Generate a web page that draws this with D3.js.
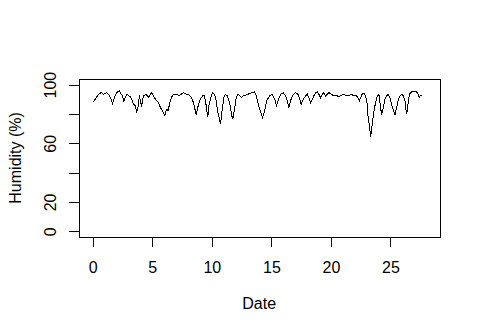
<!DOCTYPE html>
<meta charset="utf-8">
<style>
  body { margin: 0; background: #fff; }
  svg { display: block; }
  text { font-family: "Liberation Sans", Arial, sans-serif; }
</style>
<body>
<script src="https://d3js.org/d3.v7.min.js"></script>
<script>

// day of reading (days from start)
var days = [0.06, 0.20, 0.48, 0.71, 0.90, 1.15, 1.38, 1.53, 1.66, 1.82,
  2.02, 2.22, 2.39, 2.50, 2.61, 2.72, 2.86, 3.00, 3.14, 3.28,
  3.42, 3.56, 3.70, 3.80, 3.92, 4.09, 4.26, 4.51, 4.66, 4.93,
  5.18, 5.50, 5.69, 5.92, 6.05, 6.19, 6.34, 6.47, 6.61, 6.76,
  7.03, 7.29, 7.60, 7.87, 8.13, 8.27, 8.40, 8.55, 8.69, 8.82,
  8.97, 9.11, 9.24, 9.39, 9.53, 9.66, 9.75, 9.95, 10.08, 10.23,
  10.37, 10.50, 10.65, 10.73, 10.84, 11.01, 11.13, 11.29, 11.40, 11.55,
  11.68, 11.76, 11.91, 12.02, 12.16, 12.33, 12.52, 12.64, 12.86, 13.14,
  13.34, 13.56, 13.70, 13.84, 13.98, 14.12, 14.26, 14.40, 14.49, 14.60,
  14.76, 14.87, 15.04, 15.21, 15.33, 15.44, 15.55, 15.66, 15.77, 16.00,
  16.19, 16.34, 16.47, 16.61, 16.76, 16.89, 17.03, 17.23, 17.39, 17.50,
  17.68, 17.87, 18.02, 18.15, 18.29, 18.44, 18.57, 18.71, 18.86, 18.99,
  19.13, 19.28, 19.41, 19.55, 19.70, 19.83, 20.03, 20.23, 20.42, 20.65,
  20.87, 21.07, 21.26, 21.48, 21.71, 21.91, 22.10, 22.27, 22.39, 22.50,
  22.61, 22.76, 22.90, 23.03, 23.11, 23.23, 23.34, 23.45, 23.56, 23.67,
  23.78, 23.90, 24.03, 24.15, 24.26, 24.40, 24.54, 24.68, 24.82, 24.96,
  25.10, 25.24, 25.38, 25.52, 25.66, 25.80, 25.94, 26.08, 26.22, 26.30,
  26.36, 26.45, 26.55, 26.64, 26.78, 27.06, 27.20, 27.34, 27.42, 27.53,
  27.61];

// relative humidity (%)
var humidity = [88.2, 90.0, 93.4, 94.5, 93.5, 94.5, 92.7, 90.1, 87.3, 91.1,
  94.5, 95.7, 93.4, 92.5, 88.2, 91.1, 93.4, 92.5, 91.8, 90.0,
  86.6, 85.7, 81.5, 84.4, 92.5, 85.0, 92.5, 93.2, 91.1, 94.5,
  91.1, 87.7, 84.4, 81.0, 78.7, 83.2, 82.3, 87.7, 91.1, 93.4,
  93.4, 92.5, 94.5, 93.4, 92.7, 91.1, 89.1, 84.4, 79.2, 84.4,
  89.1, 91.1, 92.3, 92.3, 85.5, 77.6, 85.5, 92.3, 94.5, 93.4,
  88.9, 81.0, 76.4, 73.1, 81.0, 91.1, 93.4, 92.3, 90.0, 85.5,
  78.7, 76.4, 83.2, 90.0, 93.4, 92.5, 91.1, 92.7, 92.8, 93.8,
  94.5, 95.0, 93.4, 88.9, 84.4, 81.0, 77.6, 81.0, 84.4, 88.9,
  91.1, 92.3, 93.4, 91.1, 88.9, 85.5, 88.9, 91.1, 93.4, 94.5,
  92.3, 88.9, 84.4, 88.9, 92.3, 93.4, 94.5, 93.4, 90.0, 86.6,
  90.0, 92.3, 93.4, 91.1, 87.7, 90.0, 92.3, 94.5, 95.0, 93.4,
  91.1, 93.4, 94.5, 92.3, 93.4, 94.5, 93.4, 92.3, 92.7, 91.8,
  92.7, 93.4, 92.7, 92.3, 93.4, 92.3, 92.7, 91.1, 88.9, 91.1,
  93.4, 94.0, 92.7, 87.7, 78.7, 72.0, 64.1, 72.0, 78.7, 84.4,
  88.9, 92.3, 93.2, 85.7, 79.2, 84.4, 90.0, 92.3, 93.4, 91.1,
  86.6, 82.3, 79.2, 84.4, 90.0, 92.3, 93.4, 92.3, 88.9, 83.2,
  79.8, 85.5, 91.1, 94.0, 95.0, 95.0, 95.0, 93.4, 91.1, 92.7,
  92.3];

var xTicks = [0, 5, 10, 15, 20, 25];
var yTicks = [0, 20, 40, 60, 80, 100];
var yLabelled = [0, 20, 60, 100];   // R drops the 40 and 80 labels

var W = 480, H = 335;
var lineH = 19.2;   // one margin line at 16px text
var box = {left: 4.1 * lineH, right: W - 2.1 * lineH, top: 4.1 * lineH, bottom: H - 5.1 * lineH};

var data = days.map(function(d, i) { return {day: d, val: humidity[i]}; });

// R style limits: data range padded by 4%
var xMin = -0.054, xMax = 28.01, xPad = 0.04 * (xMax - xMin);
var x = d3.scaleLinear().domain([xMin - xPad, xMax + xPad]).range([box.left, box.right]);
var y = d3.scaleLinear().domain([-4, 104]).range([box.bottom, box.top]);

var svg = d3.select("body").append("svg")
    .attr("width", W)
    .attr("height", H);

svg.append("rect")
    .attr("width", W).attr("height", H)
    .attr("fill", "#fff");

// the series
var valueline = d3.line()
    .x(function(d) { return x(d.day); })
    .y(function(d) { return y(d.val); });

svg.append("path")
    .datum(data)
    .attr("fill", "none")
    .attr("stroke", "#000")
    .attr("stroke-width", 1)
    .attr("shape-rendering", "crispEdges")
    .attr("d", valueline);

// frame
svg.append("rect")
    .attr("x", Math.round(box.left) + 0.5).attr("y", Math.round(box.top) + 0.5)
    .attr("width", Math.round(box.right - box.left)).attr("height", Math.round(box.bottom - box.top))
    .attr("fill", "none")
    .attr("stroke", "#000")
    .attr("shape-rendering", "crispEdges");

// x axis
var gx = svg.append("g")
    .attr("transform", "translate(0," + box.bottom + ")")
    .call(d3.axisBottom(x).tickValues(xTicks).tickSize(9.6).tickFormat(d3.format("d")));
gx.select(".domain").remove();
gx.selectAll("line").attr("stroke", "#000").attr("shape-rendering", "crispEdges");
gx.selectAll("text")
    .attr("y", 30).attr("dy", "0.36em")
    .attr("fill", "#000")
    .style("font-size", "16px");

// y axis
var gy = svg.append("g")
    .attr("transform", "translate(" + box.left + ",0)")
    .call(d3.axisLeft(y).tickValues(yTicks).tickSize(9.6)
      .tickFormat(function(d) { return yLabelled.indexOf(d) >= 0 ? d : ""; }));
gy.select(".domain").remove();
gy.selectAll("line").attr("stroke", "#000").attr("shape-rendering", "crispEdges");
gy.selectAll("text")
    .attr("x", null).attr("dy", null)
    .attr("transform", "translate(-28.5,0) rotate(-90)")
    .attr("text-anchor", "middle")
    .attr("dominant-baseline", "central")
    .attr("fill", "#000")
    .style("font-size", "16px");

// axis titles
svg.append("text")
    .attr("x", (box.left + box.right) / 2)
    .attr("y", 303)
    .attr("text-anchor", "middle")
    .attr("dominant-baseline", "central")
    .style("font-size", "16px")
    .text("Date");

svg.append("text")
    .attr("transform", "translate(15," + (box.top + box.bottom) / 2 + ") rotate(-90)")
    .attr("text-anchor", "middle")
    .attr("dominant-baseline", "central")
    .style("font-size", "16px")
    .text("Humidity (%)");

</script>
</body>
